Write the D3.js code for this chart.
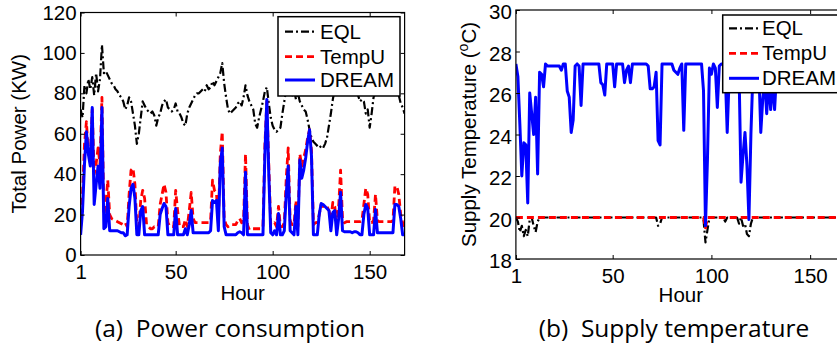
<!DOCTYPE html>
<html>
<head>
<meta charset="utf-8">
<script src="https://cdn.jsdelivr.net/npm/d3@7"></script>
<style>
  body { margin: 0; background: #fff; }
  svg text { font-family: "Liberation Sans", Arial, sans-serif; fill: #000; }
  .caption { font-family: "Open Sans", Lato, sans-serif; white-space: pre; }
</style>
</head>
<body>
<svg id="chart" width="837" height="348"></svg>
<script>
// x categories: hour of the week
const hours = d3.range(1, 169);

// (a) total power, KW
const powerEQL = [
  72, 68, 84, 80, 87, 82, 88, 79, 90, 81, 87, 104,
  90, 91, 89, 87, 85, 84, 82, 81, 79, 78, 76, 72,
  74, 78, 76, 70, 64, 55, 60, 68, 76, 74, 72, 71,
  70, 71, 69, 64, 68, 70, 74, 76, 77, 73, 72, 71,
  72, 75, 71, 70, 68, 65, 64, 70, 73, 75, 77, 79,
  80, 80, 81, 82, 81, 84, 82, 83, 86, 84, 86, 88,
  90, 95, 85, 78, 72, 70, 71, 72, 73, 75, 76, 74,
  78, 84, 79, 76, 74, 72, 65, 63, 68, 72, 76, 81,
  83, 75, 68, 64, 62, 61, 62, 63, 70, 76, 82, 84,
  80, 79, 82, 77, 80, 76, 74, 72, 71, 67, 62, 58,
  56, 55, 54, 53, 54, 53, 55, 58, 64, 70, 77, 82,
  86, 88, 85, 86, 84, 83, 85, 87, 84, 82, 80, 79,
  76, 77, 76, 70, 72, 63, 70, 78, 80, 82, 84, 83,
  85, 84, 82, 83, 84, 82, 81, 80, 79, 75, 73, 70
];
const powerTempU = [
  14, 30, 55, 66, 50, 48, 72, 40, 45, 53, 45, 78,
  20, 25, 37, 20, 18, 17.5, 17, 16.5, 16, 15.5, 15, 16,
  14, 30, 42, 43, 35, 15, 14, 27, 32, 28, 15, 14,
  13, 13, 14, 14, 14, 25, 30, 35, 31, 16, 14, 14,
  14, 32, 22, 14, 14, 14, 17.5, 14, 22, 31, 18, 16,
  16, 16, 16, 16, 16, 16, 16, 17, 37, 32, 31, 16,
  50, 61, 18, 15, 14, 15, 15, 15, 15, 17, 18, 16,
  17, 50, 15, 12.5, 13, 13, 13, 13, 13, 13, 14, 55,
  76, 45, 15, 15, 16, 14, 24, 14, 14, 16, 38, 53,
  17, 15, 15, 27, 14, 50, 44, 48, 52, 58, 62, 52,
  15, 16, 16, 20, 25, 24, 25, 24, 22, 18, 26, 24,
  16, 24, 42, 18, 16, 16.5, 16.5, 16.5, 16.5, 16.5, 16.5, 16.5,
  16.5, 17, 25, 33, 30, 16, 16, 17, 30, 17, 16.5, 16.5,
  16.5, 16.5, 16.5, 16.5, 16.5, 17, 34, 34, 30, 20, 16, 14
];
const powerDREAM = [
  10, 22, 45, 61, 50, 44, 73, 25, 35, 44, 33, 73,
  13, 14, 28, 12, 12, 12, 12, 12, 11.5, 11, 11, 9.5,
  10, 24, 33, 35, 28, 10, 10, 22, 24, 10, 10, 10,
  10, 10, 10, 10, 10, 20, 23, 25.5, 24, 10, 10, 10,
  10, 23, 10, 10, 10, 10, 13, 10, 15, 22, 11, 11,
  11, 11, 11, 11, 11, 11, 11, 12, 27, 26, 27, 12,
  45, 53, 14, 10, 10, 10, 10, 10, 10, 11, 11.5, 11,
  10, 41, 10, 10, 10, 10, 10, 10, 10, 10, 10, 50,
  77, 40, 11, 10, 12, 10, 20.5, 10, 10, 12, 30, 44,
  12, 11, 10, 24, 10, 47, 38, 42, 48, 56, 62, 49,
  10, 10, 10, 20, 25.5, 25, 24, 23, 22, 12, 21, 22,
  10, 18, 31, 12, 11.5, 11.5, 11.5, 11.5, 11, 11.5, 11.5, 11,
  10, 10, 20, 25, 23, 10, 10, 10, 22.5, 11, 11, 11,
  11, 11, 11, 11, 11, 11, 25, 25, 24, 18, 10, 10
];

// (b) supply temperature, deg C
const supplyEQL = [
  20, 19.8, 19.3, 19.6, 19.1, 19.4, 19.1, 19.9, 20, 19.6, 19.3, 19.8,
  20, 20, 20, 20, 20, 20, 20, 20, 20, 20, 20, 20,
  20, 20, 20, 20, 20, 20, 20, 20, 20, 20, 20, 20,
  20, 20, 20, 20, 20, 20, 20, 20, 20, 20, 20, 20,
  20, 20, 20, 20, 20, 20, 20, 20, 20, 20, 20, 20,
  20, 20, 20, 20, 20, 20, 20, 20, 20, 20, 20, 20,
  19.6, 19.7, 20, 20, 20, 20, 20, 20, 20, 20, 20, 20,
  20, 20, 20, 20, 20, 20, 20, 20, 20, 20, 20, 19.9,
  18.8, 19.4, 20, 20, 20, 20, 20, 20, 20, 20, 19.8, 20,
  20, 20, 20, 20, 20, 19.7, 20, 19.6, 19.7, 19.2, 19.1, 19.7,
  20, 20, 20, 20, 20, 20, 20, 20, 20, 20, 20, 20,
  20, 20, 20, 20, 20, 20, 20, 20, 20, 20, 20, 20,
  20, 20, 20, 20, 20, 20, 20, 20, 20, 20, 20, 20,
  20, 20, 20, 20, 20, 20, 20, 20, 20, 20, 20, 20
];
const supplyTempU = [
  20, 20, 20, 20, 20, 20, 20, 20, 20, 20, 20, 20,
  20, 20, 20, 20, 20, 20, 20, 20, 20, 20, 20, 20,
  20, 20, 20, 20, 20, 20, 20, 20, 20, 20, 20, 20,
  20, 20, 20, 20, 20, 20, 20, 20, 20, 20, 20, 20,
  20, 20, 20, 20, 20, 20, 20, 20, 20, 20, 20, 20,
  20, 20, 20, 20, 20, 20, 20, 20, 20, 20, 20, 20,
  20, 20, 20, 20, 20, 20, 20, 20, 20, 20, 20, 20,
  20, 20, 20, 20, 20, 20, 20, 20, 20, 20, 20, 20,
  19.5, 20, 20, 20, 20, 20, 20, 20, 20, 20, 20, 20,
  20, 20, 20, 20, 20, 20, 20, 20, 20, 20, 20, 20,
  20, 20, 20, 20, 20, 20, 20, 20, 20, 20, 20, 20,
  20, 20, 20, 20, 20, 20, 20, 20, 20, 20, 20, 20,
  20, 20, 20, 20, 20, 20, 20, 20, 20, 20, 20, 20,
  20, 20, 20, 20, 20, 20, 20, 20, 20, 20, 20, 20
];
const supplyDREAM = [
  27.4, 26.8, 24.5, 22.0, 23.6, 23.5, 20.7, 26.0, 25.0, 24.0, 25.8, 22.1,
  27.0, 26.9, 26.3, 27.4, 27.3, 27.3, 27.3, 27.3, 27.3, 27.3, 27.3, 27.1,
  27.4, 27.4, 26.1, 25.8, 24.1, 24.7, 27.3, 27.4, 27.3, 25.4, 27.4, 27.4,
  27.4, 27.4, 27.4, 27.4, 27.4, 27.4, 27.4, 26.5, 26.4, 25.9, 27.4, 27.4,
  27.4, 27.4, 26.3, 27.4, 27.4, 27.4, 27.4, 26.5, 27.1, 27.3, 26.5, 27.4,
  27.4, 27.4, 27.4, 27.4, 27.4, 27.4, 27.4, 27.3, 26.2, 26.2, 26.3, 27.0,
  23.7, 23.5, 27.4, 27.4, 27.4, 27.4, 27.4, 27.4, 27.1, 27.0, 26.9, 27.2,
  27.4, 24.2, 27.4, 27.4, 27.4, 27.4, 27.4, 27.4, 27.4, 27.4, 27.4, 26.1,
  19.6, 22.8, 27.2, 26.9, 27.4, 27.2, 25.3, 27.3, 27.4, 27.4, 27.0, 24.1,
  26.8, 27.3, 27.3, 27.3, 27.3, 27.0, 21.7, 23.0, 24.1, 22.5, 19.9, 24.0,
  26.9, 27.2, 27.2, 27.2, 24.1, 25.7, 26.6, 25.0, 26.7, 25.2, 26.6, 25.2,
  27.0, 27.3, 27.3, 27.3, 27.3, 27.3, 27.3, 27.3, 27.3, 27.3, 27.3, 27.3,
  27.3, 27.3, 27.3, 27.3, 27.3, 27.3, 27.3, 27.3, 27.3, 27.3, 27.3, 27.3,
  27.3, 27.3, 27.3, 27.3, 27.3, 27.3, 27.3, 27.3, 27.3, 27.3, 27.3, 27.3
];

const seriesNames = ["EQL", "TempU", "DREAM"];
const hourTicks = [1, 50, 100, 150];
const powerTicks = [0, 20, 40, 60, 80, 100, 120];
const tempTicks = [18, 20, 22, 24, 26, 28, 30];

// line look per series (matlab-ish)
const lineStyle = {
  EQL:   { color: "#000000", dash: "8,3,2,3", width: 2.2 },
  TempU: { color: "#ff0000", dash: "7,4", width: 2.8 },
  DREAM: { color: "#0000ff", dash: null, width: 3 }
};

const svg = d3.select("#chart");

const panels = [
  {
    id: "a", left: 80.6, right: 404.6, top: 12.5, bottom: 255,
    yDomain: [0, 120], yTicks: powerTicks, yTickDy: "0.32em",
    series: [powerEQL, powerTempU, powerDREAM],
    yLabel: "Total Power (KW)", yLabelX: 26,
    legend: { x: 278, y: 16.7, w: 122, h: 79.3, rows: [31.7, 56.7, 80], sample: 285, text: 320 },
    caption: "(a)  Power consumption", captionX: 230, captionY: 337,
    hourY: 300
  },
  {
    id: "b", left: 515.9, right: 845.7, top: 10, bottom: 259,
    yDomain: [18, 30], yTicks: tempTicks, yTickDy: "0.43em",
    series: [supplyEQL, supplyTempU, supplyDREAM],
    yLabel: "Supply Temperature (", yLabelSup: "o", yLabelEnd: "C)", yLabelX: 476,
    legend: { x: 722.7, y: 15, w: 122, h: 77.7, rows: [28.3, 53.3, 78.3], sample: 729, text: 762 },
    caption: "(b)  Supply temperature", captionX: 674, captionY: 337,
    hourY: 302
  }
];

panels.forEach(function(p) {
  const x = d3.scaleLinear().domain([1, 168]).range([p.left, p.right]);
  const y = d3.scaleLinear().domain(p.yDomain).range([p.bottom, p.top]);
  const g = svg.append("g");

  g.append("clipPath").attr("id", "clip-" + p.id)
    .append("rect")
    .attr("x", p.left).attr("y", p.top)
    .attr("width", p.right - p.left).attr("height", p.bottom - p.top);

  // data lines, drawn in matlab order so DREAM sits on top
  const line = d3.line()
    .x((d, i) => x(hours[i]))
    .y(d => y(d));

  const lines = g.append("g").attr("clip-path", "url(#clip-" + p.id + ")");
  p.series.forEach(function(vals, k) {
    const st = lineStyle[seriesNames[k]];
    lines.append("path")
      .datum(vals)
      .attr("d", line)
      .attr("fill", "none")
      .attr("stroke", st.color)
      .attr("stroke-width", st.width)
      .attr("stroke-dasharray", st.dash)
      .attr("stroke-linejoin", "round");
  });

  // axes, ticks pointing inward
  const fontSize = 20.5;
  g.append("g").attr("transform", "translate(0," + p.bottom + ")")
    .call(d3.axisBottom(x).tickValues(hourTicks).tickSize(-4).tickPadding(9).tickFormat(d3.format("d")));
  g.append("g").attr("class", "yax").attr("transform", "translate(" + p.left + ",0)")
    .call(d3.axisLeft(y).tickValues(p.yTicks).tickSize(-4).tickPadding(4));
  g.append("g").attr("transform", "translate(0," + p.top + ")")
    .call(d3.axisTop(x).tickValues(hourTicks).tickSize(-4).tickFormat(""));
  g.append("g").attr("transform", "translate(" + p.right + ",0)")
    .call(d3.axisRight(y).tickValues(p.yTicks).tickSize(-4).tickFormat(""));

  g.selectAll(".domain").remove();
  g.selectAll(".tick line").attr("stroke", "#000");
  g.selectAll(".tick text")
    .style("font-size", fontSize + "px")
    .style("font-family", "'Liberation Sans', Arial, sans-serif")
    .attr("fill", "#000");
  g.selectAll(".yax .tick text").attr("dy", p.yTickDy);

  g.append("rect")
    .attr("x", p.left).attr("y", p.top)
    .attr("width", p.right - p.left).attr("height", p.bottom - p.top)
    .attr("fill", "none").attr("stroke", "#000").attr("stroke-width", 1.2);

  // axis titles
  g.append("text")
    .attr("x", (p.left + p.right) / 2).attr("y", p.hourY)
    .attr("text-anchor", "middle")
    .style("font-size", fontSize + "px")
    .text("Hour");

  const yl = g.append("text")
    .attr("transform", "translate(" + p.yLabelX + "," + ((p.top + p.bottom) / 2) + ") rotate(-90)")
    .attr("text-anchor", "middle")
    .style("font-size", fontSize + "px");
  yl.append("tspan").text(p.yLabel);
  if (p.yLabelSup) {
    yl.append("tspan").attr("dy", -8).style("font-size", "14px").text(p.yLabelSup);
    yl.append("tspan").attr("dy", 8).text(p.yLabelEnd);
  }

  // legend
  const L = p.legend;
  const lg = g.append("g");
  lg.append("rect")
    .attr("x", L.x).attr("y", L.y).attr("width", L.w).attr("height", L.h)
    .attr("fill", "#fff").attr("stroke", "#000").attr("stroke-width", 1.5);
  seriesNames.forEach(function(name, k) {
    const st = lineStyle[name];
    lg.append("line")
      .attr("x1", L.sample).attr("x2", L.sample + 30)
      .attr("y1", L.rows[k]).attr("y2", L.rows[k])
      .attr("stroke", st.color).attr("stroke-width", st.width)
      .attr("stroke-dasharray", st.dash);
    lg.append("text")
      .attr("x", L.text).attr("y", L.rows[k] + 7)
      .style("font-size", fontSize + "px")
      .text(name);
  });

  // sub caption
  g.append("text")
    .attr("class", "caption")
    .attr("x", p.captionX).attr("y", p.captionY)
    .attr("text-anchor", "middle")
    .style("font-size", "24.5px")
    .text(p.caption);
});
</script>
</body>
</html>
